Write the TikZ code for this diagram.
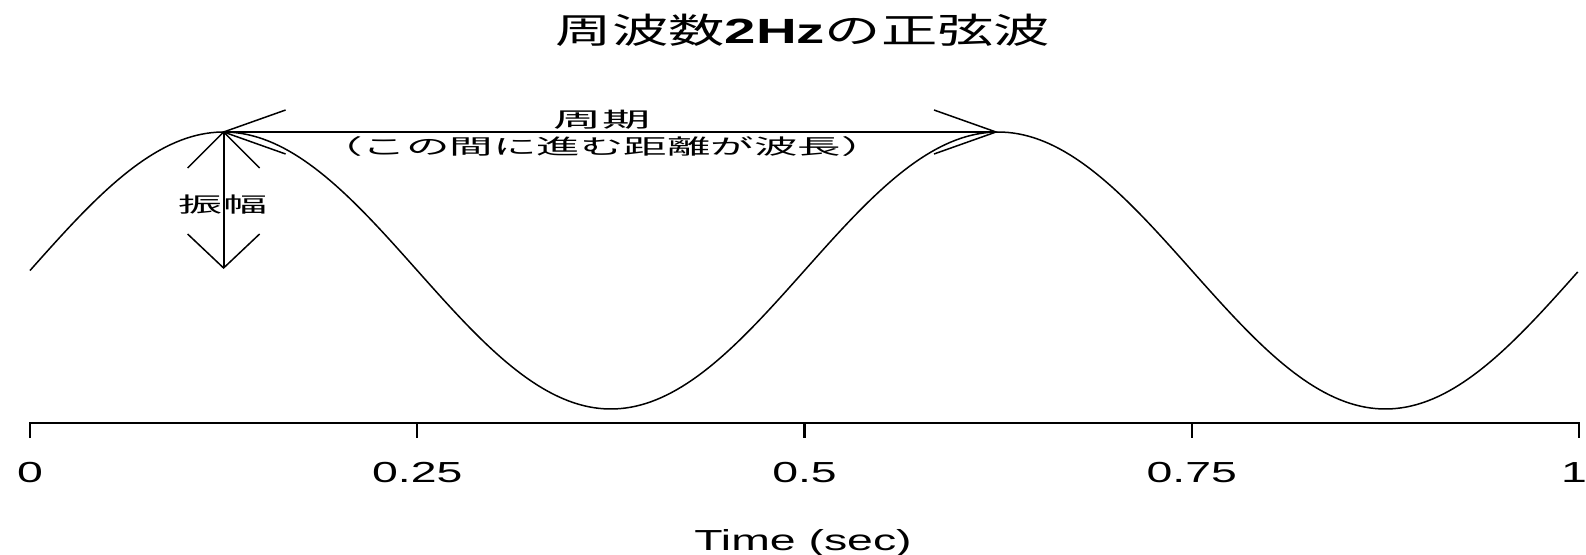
\documentclass[tikz,border=0pt]{standalone}
\usepackage{fontspec}
\usepackage{graphicx}
\setmainfont{Liberation Sans}
\newfontfamily\cjk{Noto Sans CJK JP}
\tikzset{
  wave/.style={line width=1.5pt, line join=round},
  axisline/.style={line width=2.2pt},
  shaft/.style={line width=2pt},
  headline/.style={line width=1.5pt},
  ticklab/.style={anchor=base, inner sep=0pt, font=\fontsize{29}{34}\selectfont},
  annot/.style={anchor=base, inner sep=0pt, font=\fontsize{21}{25}\selectfont\cjk},
}
\begin{document}
\begin{tikzpicture}[x=1pt,y=-1pt]
\useasboundingbox (0,0) rectangle (1586,554);
% title
\node[anchor=base, inner sep=0pt] (title) at (803,43)
  {\scalebox{1.61}[1]{\fontsize{35}{40}\selectfont\cjk 周波数{\normalfont\bfseries 2Hz}の正弦波}};
% sine wave
\draw[wave] plot[domain=0:1, samples=300] ({30+1549*\x}, {270.5-138.5*sin(720*\x)});
% axis
\coordinate (a0) at (30,423);
\coordinate (a1) at (417.25,423);
\coordinate (a2) at (804.5,423);
\coordinate (a3) at (1191.75,423);
\coordinate (a4) at (1579,423);
\draw[axisline] (a0) ++(0,15) -- (a0) -- (a4) -- ++(0,15);
\foreach \i in {1,2,3} \draw[axisline] (a\i) -- ++(0,15);
\node[ticklab] (l0) at (30,482) {\scalebox{1.6}[1]{0}};
\node[ticklab] (l1) at (417.25,482) {\scalebox{1.6}[1]{0.25}};
\node[ticklab] (l2) at (804.5,482) {\scalebox{1.6}[1]{0.5}};
\node[ticklab] (l3) at (1191.75,482) {\scalebox{1.6}[1]{0.75}};
\node[ticklab, anchor=base west] (l4) at (1561,482) {\scalebox{1.6}[1]{1\kern-0.15em}};
\node[ticklab] (xlab) at (803,550) {\scalebox{1.6}[1]{Time (sec)}};
% arrows
\coordinate (p1) at (223.6,132);
\coordinate (p2) at (996,132);
\coordinate (c1) at (223.6,268);
\draw[shaft] (p1) -- (p2);
\draw[shaft] (p1) -- (c1);
\draw[headline] (p1) ++(62,-22) -- (p1) -- ++(62,22);
\draw[headline] (p2) ++(-62,-22) -- (p2) -- ++(-62,22);
\draw[headline] (p1) ++(-36,36) -- (p1) -- ++(36,36);
\draw[headline] (c1) ++(-36,-34) -- (c1) -- ++(36,-34);
% labels
\node[annot] (period) at (602,127) {\scalebox{2.3}[1]{周期}};
\node[annot] (wavelen) at (602,154.5) {\scalebox{2.07}[1]{（この間に進む距離が波長）}};
\node[annot] (amp) at (223,212) {\scalebox{2.1}[1]{振幅}};
\end{tikzpicture}
\end{document}
